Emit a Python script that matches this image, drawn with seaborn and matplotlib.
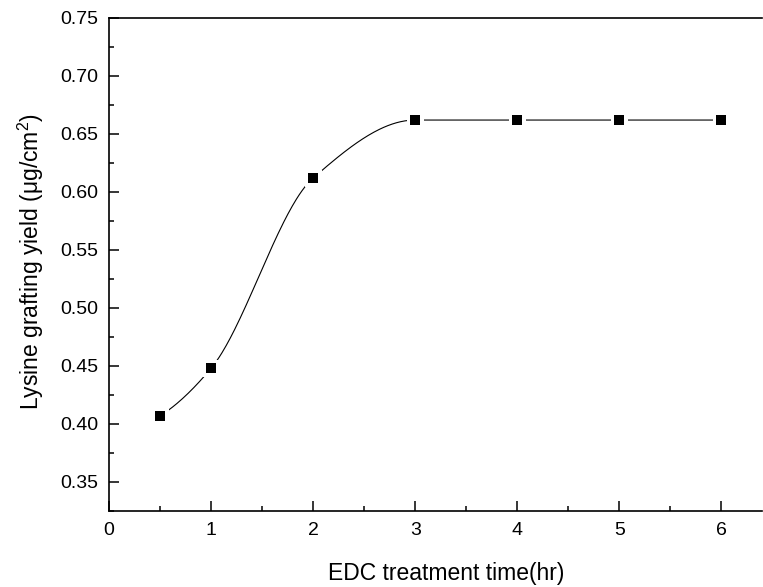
import numpy as np
import pandas as pd
import matplotlib
matplotlib.use("Agg")
import matplotlib.pyplot as plt
import seaborn as sns
from matplotlib.ticker import MultipleLocator, FormatStrFormatter

time_hr = [0.5, 1, 2, 3, 4, 5, 6]
grafting_yield = [0.407, 0.448, 0.612, 0.662, 0.662, 0.662, 0.662]
x_label = "EDC treatment time(hr)"
y_label = "Lysine grafting yield ($\\mu$g/cm$^2$)"

sns.set_theme(style="ticks", rc={"text.color": "black", "axes.labelcolor": "black",
                                 "xtick.color": "black", "ytick.color": "black"})
plt.rcParams['font.family'] = ['Liberation Sans', 'DejaVu Sans']
plt.rcParams['mathtext.fontset'] = 'custom'
plt.rcParams['mathtext.rm'] = 'Liberation Sans'
plt.rcParams['mathtext.it'] = 'Liberation Sans'


def pchip(x, y, xs):
    x = np.asarray(x, float); y = np.asarray(y, float)
    h = np.diff(x); d = np.diff(y) / h
    n = len(x); m = np.zeros(n)
    for k in range(1, n - 1):
        if d[k - 1] * d[k] > 0:
            w1 = 2 * h[k] + h[k - 1]; w2 = h[k] + 2 * h[k - 1]
            m[k] = (w1 + w2) / (w1 / d[k - 1] + w2 / d[k])
    m[0] = ((2 * h[0] + h[1]) * d[0] - h[0] * d[1]) / (h[0] + h[1])
    if np.sign(m[0]) != np.sign(d[0]):
        m[0] = 0
    m[-1] = 0
    out = np.empty_like(xs)
    idx = np.clip(np.searchsorted(x, xs) - 1, 0, n - 2)
    for i, xv in enumerate(xs):
        k = idx[i]; t = (xv - x[k]) / h[k]
        h00 = 2 * t**3 - 3 * t**2 + 1; h10 = t**3 - 2 * t**2 + t
        h01 = -2 * t**3 + 3 * t**2; h11 = t**3 - t**2
        out[i] = h00 * y[k] + h10 * h[k] * m[k] + h01 * y[k + 1] + h11 * h[k] * m[k + 1]
    return out


xs = np.linspace(time_hr[0], time_hr[-1], 400)
curve = pd.DataFrame({"t": xs, "y": pchip(time_hr, grafting_yield, xs)})
pts = pd.DataFrame({"t": time_hr, "y": grafting_yield})

fig = plt.figure(figsize=(7.63, 5.87), dpi=100)
ax = fig.add_axes([0.1429, 0.1295, 0.856, 0.8399])

sns.lineplot(data=curve, x="t", y="y", ax=ax, color="black", linewidth=0.8, zorder=2)
sns.scatterplot(data=pts, x="t", y="y", ax=ax, marker="s", s=150, color="white",
                edgecolor="none", linewidth=0, zorder=3)
sns.scatterplot(data=pts, x="t", y="y", ax=ax, marker="s", s=55, color="black",
                edgecolor="black", linewidth=0, zorder=4)

ax.set_xlim(0, 6.4)
ax.set_ylim(0.325, 0.75)
ax.xaxis.set_major_locator(MultipleLocator(1))
ax.xaxis.set_minor_locator(MultipleLocator(0.5))
ax.yaxis.set_major_locator(MultipleLocator(0.05))
ax.yaxis.set_minor_locator(MultipleLocator(0.025))
ax.yaxis.set_major_formatter(FormatStrFormatter("%.2f"))

ax.tick_params(which="both", direction="in", top=False, right=False, width=1.1,
               labelsize=14, colors="black")
ax.tick_params(which="major", length=7, pad=8)
ax.tick_params(which="minor", length=3.5)

for side in ["left", "bottom", "top"]:
    ax.spines[side].set_linewidth(1.2)
    ax.spines[side].set_color("black")
ax.spines["right"].set_visible(False)

ax.set_xlabel(x_label, fontsize=16.5)
ax.set_ylabel(y_label, fontsize=16.5)
ax.xaxis.set_label_coords(0.516, -0.103)
ax.yaxis.set_label_coords(-0.097, 0.505)

fig.savefig("out.png", dpi=100)
